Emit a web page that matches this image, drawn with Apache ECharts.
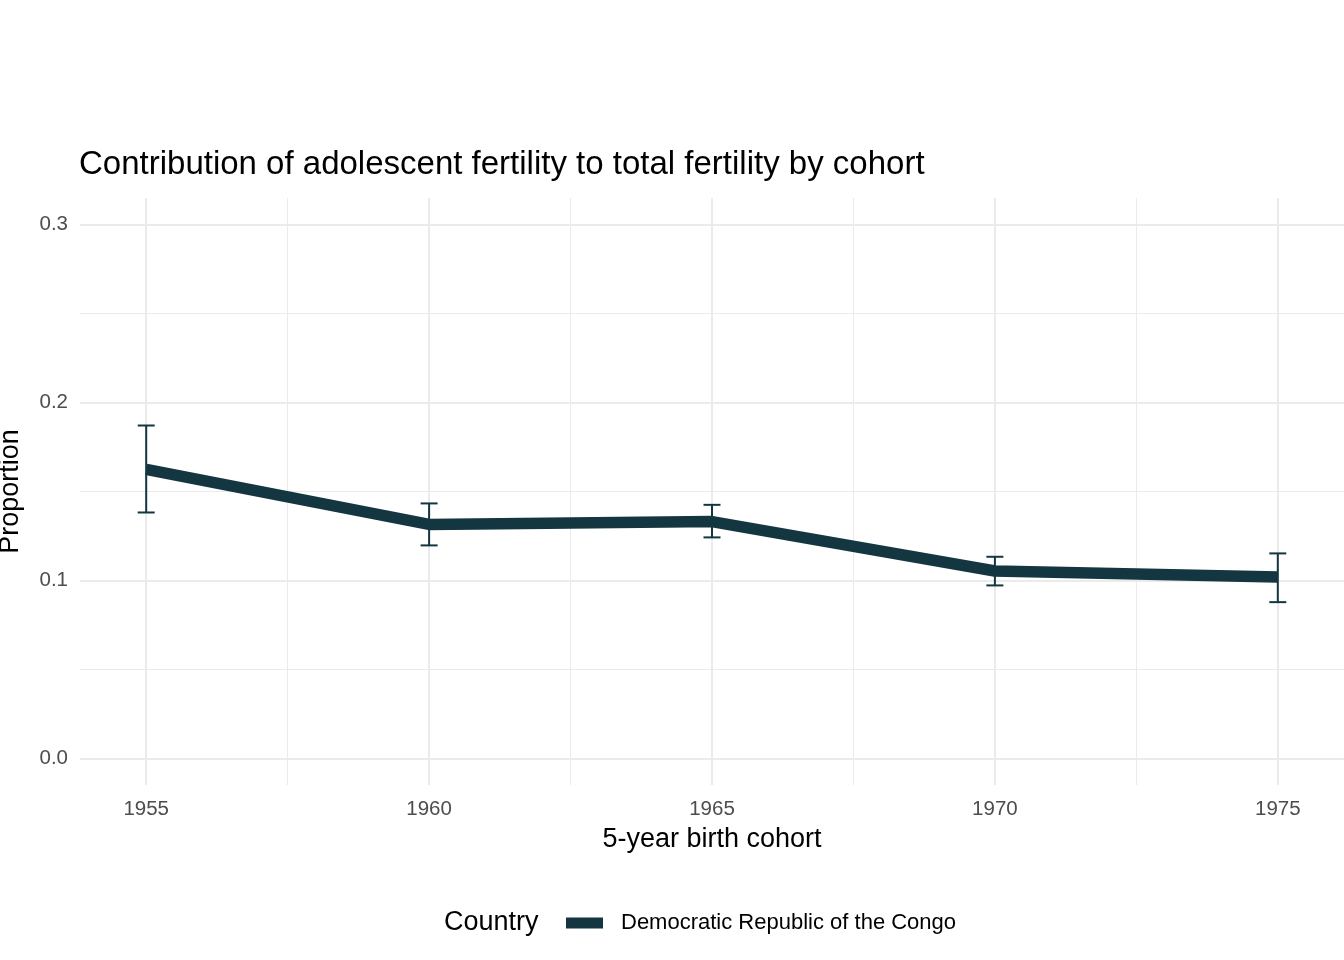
<!DOCTYPE html>
<html>
<head>
<meta charset="utf-8">
<script src="https://cdn.jsdelivr.net/npm/echarts@6/dist/echarts.min.js"></script>
<style>html,body{margin:0;padding:0;background:#fff}#c{width:1344px;height:960px}</style>
</head>
<body>
<div id="c"></div>
<script>
const cohorts = [1955, 1960, 1965, 1970, 1975];
const proportion = [0.1624, 0.1315, 0.1331, 0.1053, 0.1020];
const upper = [0.1871, 0.1433, 0.1425, 0.1133, 0.1152];
const lower = [0.1382, 0.1197, 0.1242, 0.0972, 0.0878];
const xMajor = [1955, 1960, 1965, 1970, 1975];
const xMinor = [1957.5, 1962.5, 1967.5, 1972.5];
const yMajor = [0, 0.1, 0.2, 0.3];
const yMinor = [0.05, 0.15, 0.25];
const country = 'Democratic Republic of the Congo';

const color = '#133640';
const gridCol = '#ebebeb';
const font = 'Liberation Sans, Arial, sans-serif';

const chart = echarts.init(document.getElementById('c'));
const xMin = 1953.83, xMax = 1976.17, yMin = -0.015, yMax = 0.315;

chart.setOption({
  backgroundColor: '#fff',
  animation: false,
  title: {
    text: 'Contribution of adolescent fertility to total fertility by cohort',
    left: 79, top: 148, padding: 0,
    textStyle: {fontFamily: font, fontSize: 33, fontWeight: 'normal', color: '#000'}
  },
  grid: {left: 80, right: 0, top: 198, bottom: 175, outerBoundsMode: 'none', containLabel: false},
  xAxis: [{
    type: 'value', min: xMin, max: xMax,
    name: '5-year birth cohort', nameLocation: 'middle', nameGap: 41,
    nameTextStyle: {fontFamily: font, fontSize: 27, color: '#000'},
    axisLine: {show: false},
    axisTick: {show: false, customValues: xMajor},
    axisLabel: {customValues: xMajor, margin: 14, fontFamily: font, fontSize: 20.5, color: '#4d4d4d',
      formatter: v => String(v)},
    splitLine: {show: true, lineStyle: {color: gridCol, width: 2}}
  }, {
    type: 'value', min: xMin, max: xMax, position: 'bottom',
    axisLine: {show: false},
    axisTick: {show: false, customValues: xMinor},
    axisLabel: {show: false, customValues: xMinor},
    splitLine: {show: true, lineStyle: {color: gridCol, width: 1}}
  }],
  yAxis: [{
    type: 'value', min: yMin, max: yMax,
    name: 'Proportion', nameLocation: 'middle', nameGap: 56, nameRotate: 90,
    nameTextStyle: {fontFamily: font, fontSize: 27, color: '#000'},
    axisLine: {show: false},
    axisTick: {show: false, customValues: yMajor},
    axisLabel: {customValues: yMajor, margin: 12, fontFamily: font, fontSize: 20.5, color: '#4d4d4d',
      formatter: v => v.toFixed(1)},
    splitLine: {show: true, lineStyle: {color: gridCol, width: 2}}
  }, {
    type: 'value', min: yMin, max: yMax, position: 'left',
    axisLine: {show: false},
    axisTick: {show: false, customValues: yMinor},
    axisLabel: {show: false, customValues: yMinor},
    splitLine: {show: true, lineStyle: {color: gridCol, width: 1}}
  }],
  legend: {
    data: [{name: country, icon: 'rect'}],
    left: 566, top: 912, padding: 0,
    itemWidth: 37, itemHeight: 11, itemGap: 10,
    textStyle: {fontFamily: font, fontSize: 22, color: '#000', padding: [0, 0, 0, 13]}
  },
  graphic: [{
    type: 'text', left: 444, top: 909,
    style: {text: 'Country', fontFamily: font, fontSize: 27, fill: '#000'}
  }],
  series: [{
    name: country, type: 'line',
    data: cohorts.map((c, i) => [c, proportion[i]]),
    symbol: 'none',
    lineStyle: {color: color, width: 11.5},
    itemStyle: {color: color},
    z: 3
  }, {
    name: 'err', type: 'custom',
    data: cohorts.map((c, i) => [c, lower[i], upper[i]]),
    renderItem: (params, api) => {
      const lo = api.coord([api.value(0), api.value(1)]);
      const hi = api.coord([api.value(0), api.value(2)]);
      const hw = 8.5;
      const st = {stroke: color, lineWidth: 2, fill: null};
      return {type: 'group', children: [
        {type: 'line', shape: {x1: lo[0], y1: lo[1], x2: hi[0], y2: hi[1]}, style: st},
        {type: 'line', shape: {x1: hi[0] - hw, y1: hi[1], x2: hi[0] + hw, y2: hi[1]}, style: st},
        {type: 'line', shape: {x1: lo[0] - hw, y1: lo[1], x2: lo[0] + hw, y2: lo[1]}, style: st}
      ]};
    },
    z: 4
  }]
});
</script>
</body>
</html>
